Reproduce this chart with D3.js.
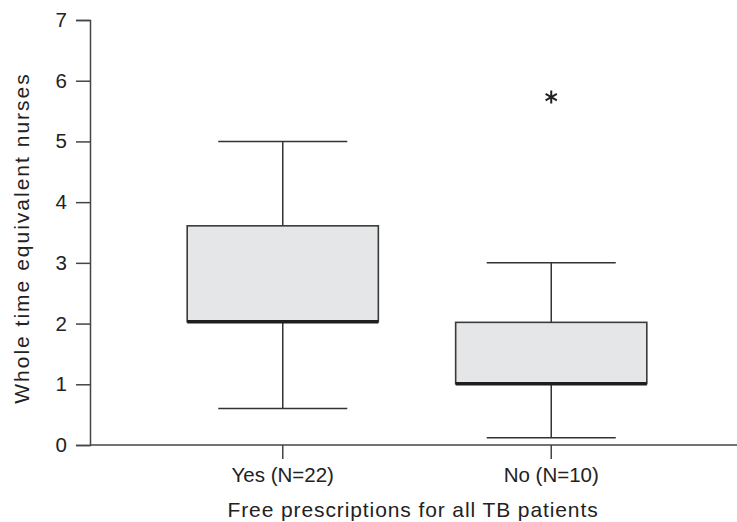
<!DOCTYPE html>
<html>
<head>
<meta charset="utf-8">
<script src="https://cdn.jsdelivr.net/npm/d3@7"></script>
<style>
  body { margin: 0; background: #fff; }
  text { font-family: "Liberation Sans", Arial, sans-serif; fill: #222; }
</style>
</head>
<body>
<script>
// groups + box summary values
var groups = ["Yes (N=22)", "No (N=10)"];
var lowWhisker = [0.6, 0.12];
var q1 = [2.03, 1.01];
var median = [2.03, 1.01];
var q3 = [3.61, 2.02];
var highWhisker = [5.0, 3.0];
var outliers = [[], [5.73]];
var yTicks = [0, 1, 2, 3, 4, 5, 6, 7];

var width = 737, height = 522;
var fontSize = 20.5;

var svg = d3.select("body").append("svg")
    .attr("width", width)
    .attr("height", height);

var x = d3.scaleBand()
    .domain(groups)
    .range([90, 744])
    .paddingInner(0.288)
    .paddingOuter(0.362);

var y = d3.scaleLinear()
    .domain([0, 7])
    .range([445, 20]);

// axes
var yAxis = svg.append("g")
    .attr("transform", "translate(90,0)")
    .call(d3.axisLeft(y).tickValues(yTicks).tickFormat(d3.format("d"))
        .tickSize(14).tickSizeOuter(14).tickPadding(9));
var xAxis = svg.append("g")
    .attr("transform", "translate(0,445)")
    .call(d3.axisBottom(x).tickSize(14).tickSizeOuter(0).tickPadding(8));

svg.selectAll(".domain, .tick line")
    .attr("stroke", "#444")
    .attr("stroke-width", 1.5);
svg.selectAll(".tick text")
    .attr("font-size", fontSize + "px")
    .attr("font-family", "Liberation Sans, Arial, sans-serif")
    .attr("fill", "#222");
xAxis.select(".domain").attr("d", "M90,0H737");

// axis titles
svg.append("text")
    .attr("x", 413)
    .attr("y", 517)
    .attr("text-anchor", "middle")
    .attr("font-size", "21px")
    .attr("letter-spacing", "0.9px")
    .text("Free prescriptions for all TB patients");
svg.append("text")
    .attr("transform", "translate(28.5,238) rotate(-90)")
    .attr("text-anchor", "middle")
    .attr("font-size", "21px")
    .attr("letter-spacing", "2px")
    .text("Whole time equivalent nurses");

// boxes
var idx = d3.range(groups.length);
var bw = x.bandwidth();
var capW = bw * 0.675;

var g = svg.selectAll(".box")
    .data(idx)
    .enter().append("g")
    .attr("class", "box");

// whiskers
g.append("line")
    .attr("x1", function (i) { return x(groups[i]) + bw / 2; })
    .attr("x2", function (i) { return x(groups[i]) + bw / 2; })
    .attr("y1", function (i) { return y(highWhisker[i]); })
    .attr("y2", function (i) { return y(lowWhisker[i]); })
    .attr("stroke", "#333").attr("stroke-width", 1.5);
[highWhisker, lowWhisker].forEach(function (arr) {
    g.append("line")
        .attr("x1", function (i) { return x(groups[i]) + bw / 2 - capW / 2; })
        .attr("x2", function (i) { return x(groups[i]) + bw / 2 + capW / 2; })
        .attr("y1", function (i) { return y(arr[i]); })
        .attr("y2", function (i) { return y(arr[i]); })
        .attr("stroke", "#333").attr("stroke-width", 1.5);
});

g.append("rect")
    .attr("x", function (i) { return x(groups[i]); })
    .attr("y", function (i) { return y(q3[i]); })
    .attr("width", bw)
    .attr("height", function (i) { return y(q1[i]) - y(q3[i]); })
    .attr("fill", "#e5e6e8")
    .attr("stroke", "#3a3a3a")
    .attr("stroke-width", 1.6);

g.append("line")
    .attr("x1", function (i) { return x(groups[i]); })
    .attr("x2", function (i) { return x(groups[i]) + bw; })
    .attr("y1", function (i) { return y(median[i]); })
    .attr("y2", function (i) { return y(median[i]); })
    .attr("stroke", "#1e1e1e").attr("stroke-width", 3.5);

// outliers drawn as asterisks
var outPts = [];
idx.forEach(function (i) {
    outliers[i].forEach(function (v) { outPts.push([groups[i], v]); });
});
var r = 6.5;
svg.selectAll(".outlier")
    .data(outPts)
    .enter().append("path")
    .attr("class", "outlier")
    .attr("transform", function (d) {
        return "translate(" + (x(d[0]) + bw / 2) + "," + y(d[1]) + ")";
    })
    .attr("d", function () {
        var s = "";
        [90, 30, -30].forEach(function (a) {
            var rad = a * Math.PI / 180;
            var dx = r * Math.cos(rad), dy = r * Math.sin(rad);
            s += "M" + (-dx) + "," + (-dy) + "L" + dx + "," + dy;
        });
        return s;
    })
    .attr("stroke", "#222")
    .attr("stroke-width", 2);
</script>
</body>
</html>
